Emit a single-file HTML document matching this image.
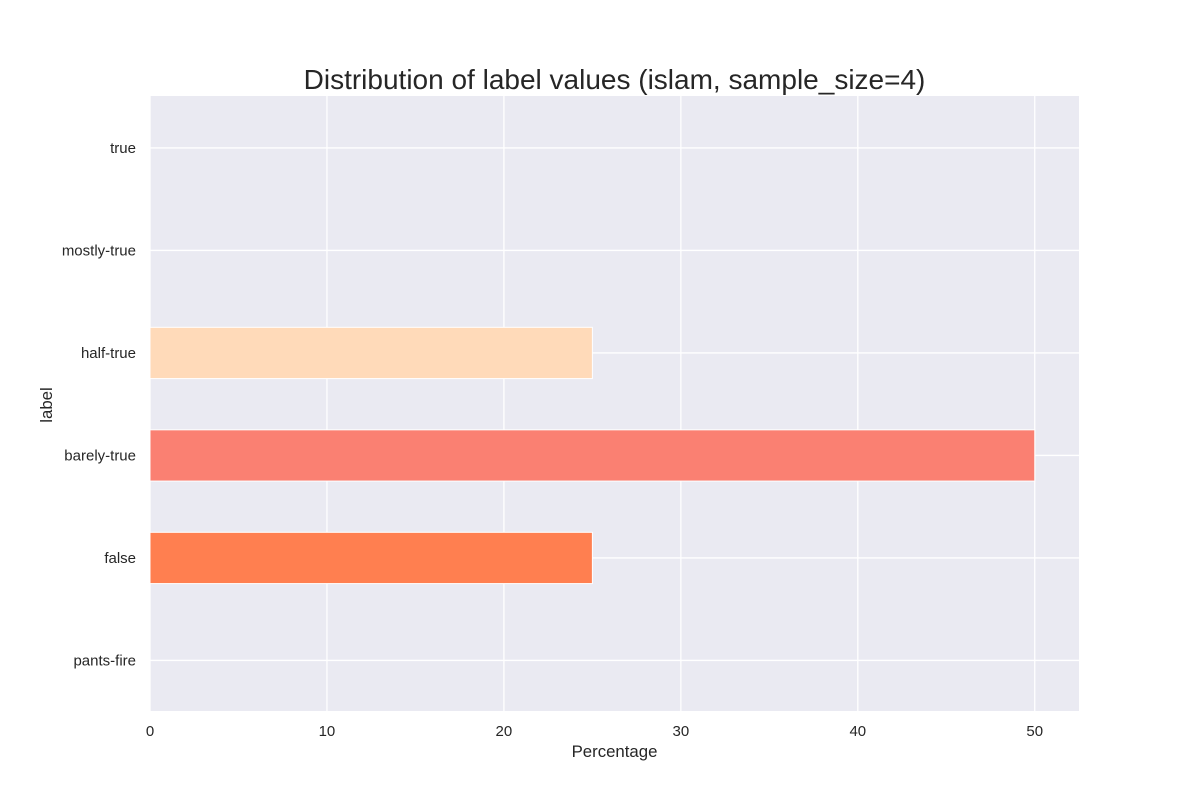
<!DOCTYPE html>
<html><head><meta charset="utf-8"><style>
body{margin:0;background:#fff;}
svg text{font-family:"Liberation Sans","DejaVu Sans",sans-serif;fill:#262626;}
</style></head><body>
<svg id="chart" width="1200" height="800">
<rect x="150" y="96" width="929" height="615" fill="#EAEAF2"/>
<g id="grid"></g><g id="bars"></g><g id="xt"></g><g id="yt"></g>
<text x="614.5" y="89" font-size="28" text-anchor="middle">Distribution of label values (islam, sample_size=4)</text>
<text x="614.5" y="757" font-size="16.8" text-anchor="middle">Percentage</text>
<text x="52" y="405" font-size="16.8" text-anchor="middle" transform="rotate(-90 52 405)">label</text>
</svg>
<script>
const categories=["pants-fire","false","barely-true","half-true","mostly-true","true"];
const values=[0,25,50,25,0,0];
const colors=["#FF7F50","#FF7F50","#FA8072","#FFDAB9","#FFDAB9","#FFDAB9"];
const xTicks=[0,10,20,30,40,50];
const NS="http://www.w3.org/2000/svg";
const L=150,R=1079,T=96,B=711,xmax=52.5;
const xs=v=>L+v/xmax*(R-L);
const band=(B-T)/categories.length;
const ys=i=>B-band*(i+0.5)+0.7;
function mk(tag,a,p){const e=document.createElementNS(NS,tag);for(const k in a)e.setAttribute(k,a[k]);p.appendChild(e);return e;}
const grid=document.getElementById('grid'),bars=document.getElementById('bars'),xt=document.getElementById('xt'),yt=document.getElementById('yt');
xTicks.forEach(t=>{
 const l=mk('line',{x1:xs(t),x2:xs(t),y1:T,y2:B,stroke:'#fff','stroke-width':1.3},grid);
 
 
 const tx=mk('text',{x:xs(t),y:B+25,'font-size':15,'text-anchor':'middle'},xt);tx.textContent=t;
 
 
});
categories.forEach((c,i)=>{
 const l=mk('line',{x1:L,x2:R,y1:ys(i),y2:ys(i),stroke:'#fff','stroke-width':1.3},grid);
 
 
 const tx=mk('text',{x:L-14,y:ys(i)+5,'font-size':15,'text-anchor':'end'},yt);tx.textContent=c;
 
 
 if(values[i]>0){
  const h=band*0.5;
  const r=mk('rect',{x:L,y:ys(i)-h/2,width:xs(values[i])-L,height:h,fill:colors[i],stroke:'#fff','stroke-width':1},bars);
  
  
 }
});
</script>
</body></html>
